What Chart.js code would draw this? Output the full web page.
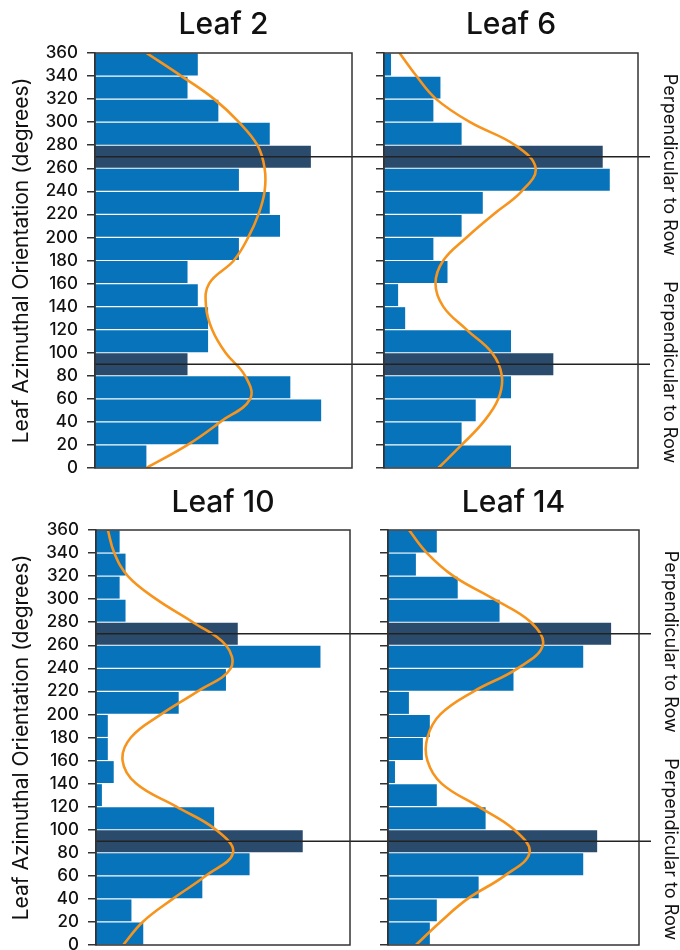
<!DOCTYPE html>
<html>
<head>
<meta charset="utf-8">
<script src="https://cdn.jsdelivr.net/npm/chart.js@4.4.0/dist/chart.umd.min.js"></script>
<style>
  body { margin: 0; background: #fff; width: 680px; height: 950px; position: relative; overflow: hidden; }
  .box { position: absolute; }
</style>
</head>
<body>
<div class="box" style="left:0;top:0;width:366px;height:480px"><canvas id="leaf2"></canvas></div>
<div class="box" style="left:366px;top:0;width:314px;height:480px"><canvas id="leaf6"></canvas></div>
<div class="box" style="left:0;top:480px;width:366px;height:470px"><canvas id="leaf10"></canvas></div>
<div class="box" style="left:366px;top:480px;width:314px;height:470px"><canvas id="leaf14"></canvas></div>
<script>
// 20 degree bins, drawn at their centres
const binCenters = [10, 30, 50, 70, 90, 110, 130, 150, 170, 190, 210, 230, 250, 270, 290, 310, 330, 350];
const curveAngles = [0, 20, 40, 60, 80, 100, 120, 140, 160, 180, 200, 220, 240, 260, 280, 300, 320, 340, 360];
const perpAngles = [90, 270];
const darkBins = [90, 270];

const leaf2Counts  = [5, 12, 22, 19, 9, 11, 11, 10, 9, 14, 18, 17, 14, 21, 17, 12, 9, 10];
const leaf6Counts  = [18, 11, 13, 18, 24, 18, 3, 2, 9, 7, 11, 14, 32, 31, 11, 7, 8, 1];
const leaf10Counts = [8, 6, 18, 26, 35, 20, 1, 3, 2, 2, 14, 22, 38, 24, 5, 4, 5, 4];
const leaf14Counts = [6, 7, 13, 28, 30, 14, 7, 1, 5, 6, 3, 18, 28, 32, 16, 10, 4, 7];

const leaf2Curve  = [5.0, 9.0, 12.2, 15.1, 14.6, 12.7, 11.4, 10.8, 11.1, 13.5, 14.9, 15.9, 16.5, 16.5, 15.8, 14.0, 11.6, 8.4, 5.0];
const leaf6Curve  = [7.7, 11.0, 14.1, 16.2, 16.7, 15.3, 11.7, 8.4, 7.3, 8.4, 11.7, 15.5, 19.5, 21.5, 18.6, 12.2, 7.4, 4.6, 2.2];
const leaf10Curve = [4.6, 7.9, 13.0, 18.6, 23.2, 20.3, 13.6, 6.8, 4.5, 5.9, 11.0, 17.2, 22.8, 22.0, 16.4, 10.2, 5.4, 3.1, 2.0];
const leaf14Curve = [4.0, 7.5, 11.4, 16.7, 20.3, 18.1, 13.0, 7.7, 5.65, 5.65, 7.5, 12.3, 18.6, 22.2, 20.5, 15.2, 9.4, 5.6, 3.0];

const BLUE = '#0673BA';
const DARK = '#2A4B6C';
const ORANGE = '#F7941D';
const INK = '#333333';

Chart.defaults.font.family = 'Inter, "Noto Sans", sans-serif';
Chart.defaults.color = '#111';

const framePlugin = {
  id: 'frame',
  afterDatasetsDraw(chart, args, opts) {
    const { ctx, chartArea: a } = chart;
    const y = chart.scales.y;
    ctx.save();
    ctx.strokeStyle = '#222';
    ctx.lineWidth = 1.5;
    perpAngles.forEach(v => {
      const py = y.getPixelForValue(v);
      const x0 = opts.right ? 0 : a.left;
      const x1 = opts.right ? a.right + 12 : chart.width;
      ctx.beginPath();
      ctx.moveTo(x0, py);
      ctx.lineTo(x1, py);
      ctx.stroke();
    });
    ctx.strokeStyle = INK;
    ctx.strokeRect(a.left, a.top, a.right - a.left, a.bottom - a.top);
    if (opts.right) {
      ctx.fillStyle = '#111';
      ctx.font = '18px Inter, "Noto Sans", sans-serif';
      ctx.textAlign = 'center';
      ctx.textBaseline = 'middle';
      perpAngles.forEach(v => {
        ctx.save();
        ctx.translate(a.right + 31, y.getPixelForValue(v) + 8);
        ctx.rotate(Math.PI / 2);
        ctx.fillText('Perpendicular to Row', 0, 0);
        ctx.restore();
      });
    }
    ctx.restore();
  }
};

function makeChart(id, title, counts, curve, xMax, o) {
  new Chart(document.getElementById(id), {
    type: 'bar',
    data: {
      datasets: [
        {
          type: 'line',
          order: 0,
          indexAxis: 'y',
          data: curveAngles.map((a, i) => ({ x: curve[i], y: a })),
          borderColor: ORANGE,
          borderWidth: 2.6,
          pointRadius: 0,
          tension: 0.4,
          fill: false
        },
        {
          type: 'bar',
          order: 1,
          indexAxis: 'y',
          data: binCenters.map((c, i) => ({ x: counts[i], y: c })),
          backgroundColor: binCenters.map(c => darkBins.includes(c) ? DARK : BLUE),
          borderWidth: 0,
          categoryPercentage: 1,
          barPercentage: 0.95
        }
      ]
    },
    options: {
      indexAxis: 'y',
      responsive: true,
      maintainAspectRatio: false,
      animation: false,
      layout: { padding: o.padding },
      plugins: {
        legend: { display: false },
        tooltip: { enabled: false },
        title: {
          display: true, text: title, fullSize: false,
          font: { size: 30, weight: '500' }, color: '#111',
          padding: o.titlePad
        },
        frame: { right: o.right }
      },
      scales: {
        x: { type: 'linear', display: false, min: 0, max: xMax },
        y: {
          type: 'linear', min: 0, max: 360, offset: false,
          afterFit: s => { s.width = o.axisWidth; s.paddingTop = 0; s.paddingBottom = 0; },
          ticks: { stepSize: 20, autoSkip: false, display: !o.right, padding: 9, color: '#111', font: { size: 17, weight: '500' } },
          grid: { offset: false, drawOnChartArea: false, drawTicks: true, tickLength: 8, color: INK, lineWidth: 1.5 },
          border: { display: true, color: INK, width: 1.5 },
          title: {
            display: !o.right, text: 'Leaf Azimuthal Orientation (degrees)',
            font: { size: 21 }, color: '#111', padding: { top: 9, bottom: 0 }
          }
        }
      }
    },
    plugins: [framePlugin]
  });
}

makeChart('leaf2', 'Leaf 2', leaf2Counts, leaf2Curve, 25,
  { right: false, axisWidth: 95, padding: { left: 0, right: 14, top: 0, bottom: 12 }, titlePad: { top: 7, bottom: 10 } });
makeChart('leaf6', 'Leaf 6', leaf6Counts, leaf6Curve, 36,
  { right: true, axisWidth: 18, padding: { left: 0, right: 42, top: 0, bottom: 12 }, titlePad: { top: 7, bottom: 10 } });
makeChart('leaf10', 'Leaf 10', leaf10Counts, leaf10Curve, 43,
  { right: false, axisWidth: 96, padding: { left: 0, right: 16, top: 0, bottom: 5 }, titlePad: { top: 5, bottom: 9 } });
makeChart('leaf14', 'Leaf 14', leaf14Counts, leaf14Curve, 36,
  { right: true, axisWidth: 22, padding: { left: 0, right: 41, top: 0, bottom: 5 }, titlePad: { top: 5, bottom: 9 } });
</script>
</body>
</html>
